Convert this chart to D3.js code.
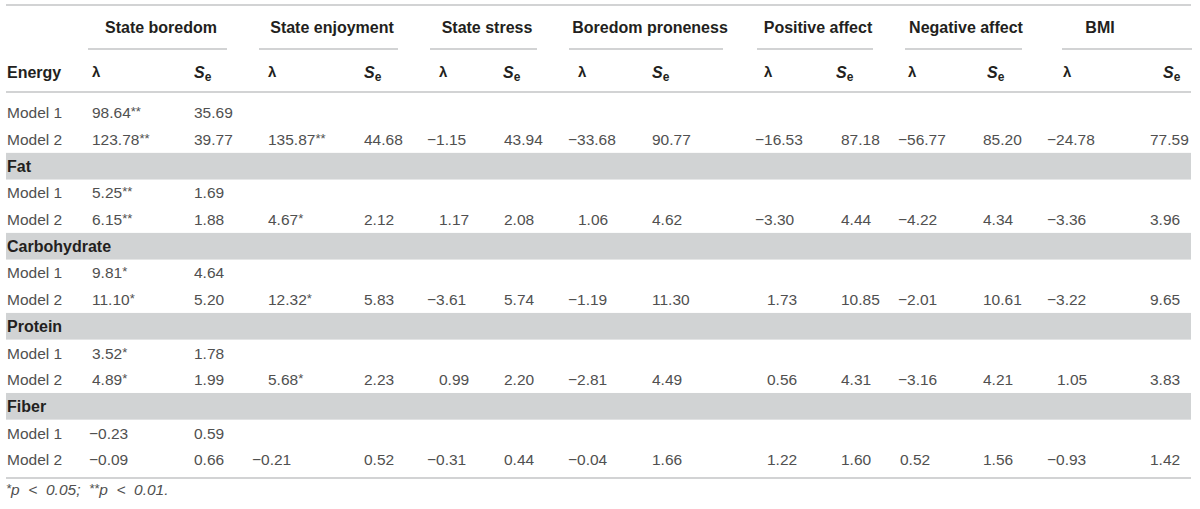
<!DOCTYPE html>
<html>
<head>
<meta charset="utf-8">
<script src="https://cdn.jsdelivr.net/npm/d3@7"></script>
<style>
  body { margin: 0; background: #fff; }
  svg { display: block; font-family: "Liberation Sans", Arial, Helvetica, sans-serif; }
</style>
</head>
<body>
<script>
// categorias e colunas
var groups = ["Energy", "Fat", "Carbohydrate", "Protein", "Fiber"];
var outcomes = ["State boredom", "State enjoyment", "State stress", "Boredom proneness",
                "Positive affect", "Negative affect", "BMI"];
var models = ["Model 1", "Model 2"];

// model 1 (só state boredom)
var m1Lambda = [98.64, 5.25, 9.81, 3.52, -0.23];
var m1Sig    = [2, 2, 1, 1, 0];
var m1Se     = [35.69, 1.69, 4.64, 1.78, 0.59];

// model 2, uma linha por grupo, uma coluna por outcome
var m2Lambda = [
  [123.78, 135.87, -1.15, -33.68, -16.53, -56.77, -24.78],
  [6.15, 4.67, 1.17, 1.06, -3.30, -4.22, -3.36],
  [11.10, 12.32, -3.61, -1.19, 1.73, -2.01, -3.22],
  [4.89, 5.68, 0.99, -2.81, 0.56, -3.16, 1.05],
  [-0.09, -0.21, -0.31, -0.04, 1.22, 0.52, -0.93]
];
var m2Sig = [
  [2, 2, 0, 0, 0, 0, 0],
  [2, 1, 0, 0, 0, 0, 0],
  [1, 1, 0, 0, 0, 0, 0],
  [1, 1, 0, 0, 0, 0, 0],
  [0, 0, 0, 0, 0, 0, 0]
];
var m2Se = [
  [39.77, 44.68, 43.94, 90.77, 87.18, 85.20, 77.59],
  [1.88, 2.12, 2.08, 4.62, 4.44, 4.34, 3.96],
  [5.20, 5.83, 5.74, 11.30, 10.85, 10.61, 9.65],
  [1.99, 2.23, 2.20, 4.49, 4.31, 4.21, 3.83],
  [0.66, 0.52, 0.44, 1.66, 1.60, 1.56, 1.42]
];

// layout
var w = 1200, h = 509;
var left = 6, right = 1191;
var textColor = "#505050", headColor = "#231f20", ruleColor = "#c3c4c6", bandColor = "#d1d3d4";

var lamX  = d3.scaleOrdinal().domain(outcomes).range([92, 268, 439, 578, 767, 900, 1057]);
var lamHang = d3.scaleOrdinal().domain(outcomes).range([3, 16, 12, 10, 12, 2, 10]);
var seX   = d3.scaleOrdinal().domain(outcomes).range([194, 364, 504, 652, 841, 983, 1150]);
var lamHX = d3.scaleOrdinal().domain(outcomes).range([92, 268, 439, 578, 764, 908, 1063]);
var seHX  = d3.scaleOrdinal().domain(outcomes).range([194, 364, 503, 652, 836, 987, 1163]);
var ruleA = d3.scaleOrdinal().domain(outcomes).range([88, 259, 430, 569, 757, 905, 1062]);
var ruleB = d3.scaleOrdinal().domain(outcomes).range([227, 398, 537, 723, 873, 1022, 1192]);
var headC = d3.scaleOrdinal().domain(outcomes).range([161, 332, 487, 650, 818, 966, 1100]);

var fmt = d3.format(".2f");

// linhas da tabela
var rows = [];
groups.forEach(function(g, gi) {
  if (gi > 0) rows.push({key: g + "-band", type: "band", group: g, gi: gi});
  models.forEach(function(m, mi) {
    rows.push({key: g + "-" + mi, type: "model", group: g, gi: gi, mi: mi, label: m});
  });
});

var y = d3.scaleBand()
  .domain(rows.map(function(r) { return r.key; }))
  .range([99.5, 473]);

var svg = d3.select("body").append("svg")
  .attr("width", w).attr("height", h);

// faixas cinzas
svg.selectAll("rect.band")
  .data(rows.filter(function(r) { return r.type == "band"; }))
  .enter().append("rect")
  .attr("class", "band")
  .attr("x", left).attr("width", right - left)
  .attr("y", function(d) { return y(d.key); })
  .attr("height", y.bandwidth())
  .attr("fill", bandColor);

svg.selectAll("text.bandlabel")
  .data(rows.filter(function(r) { return r.type == "band"; }))
  .enter().append("text")
  .attr("class", "bandlabel")
  .attr("x", 7)
  .attr("y", function(d) { return y(d.key) + y.bandwidth() / 2; })
  .attr("dy", "0.36em")
  .attr("font-size", "16px").attr("font-weight", "bold")
  .attr("fill", headColor)
  .text(function(d) { return d.group; });

// regras horizontais
function hline(x1, x2, yy) {
  svg.append("line")
    .attr("x1", x1).attr("x2", x2).attr("y1", yy).attr("y2", yy)
    .attr("stroke", ruleColor).attr("stroke-width", 1.6);
}
hline(left, right, 5);
hline(left, right, 92);
hline(left, right, 478);
outcomes.forEach(function(o) { hline(ruleA(o), ruleB(o), 49); });

// cabeçalho
svg.selectAll("text.head")
  .data(outcomes)
  .enter().append("text")
  .attr("class", "head")
  .attr("x", function(d) { return headC(d); })
  .attr("y", 27).attr("dy", "0.36em")
  .attr("text-anchor", "middle")
  .attr("font-size", "16px").attr("font-weight", "bold")
  .attr("fill", headColor)
  .text(function(d) { return d; });

svg.append("text")
  .attr("x", 7).attr("y", 72).attr("dy", "0.36em")
  .attr("font-size", "16px").attr("font-weight", "bold")
  .attr("fill", headColor)
  .text(groups[0]);

svg.selectAll("text.lamhead")
  .data(outcomes)
  .enter().append("text")
  .attr("class", "lamhead")
  .attr("x", function(d) { return lamHX(d); })
  .attr("y", 72).attr("dy", "0.36em")
  .attr("font-size", "15px").attr("font-weight", "bold")
  .attr("fill", headColor)
  .text("\u03bb");

var seHead = svg.selectAll("text.sehead")
  .data(outcomes)
  .enter().append("text")
  .attr("class", "sehead")
  .attr("x", function(d) { return seHX(d); })
  .attr("y", 72).attr("dy", "0.36em")
  .attr("font-size", "16px").attr("font-weight", "bold")
  .attr("fill", headColor);
seHead.append("tspan").attr("font-style", "italic").text("S");
seHead.append("tspan").attr("font-size", "12px").attr("dy", "3").text("e");

// células
var cells = [];
rows.filter(function(r) { return r.type == "model"; }).forEach(function(r) {
  outcomes.forEach(function(o, oi) {
    var lam, se, sig;
    if (r.mi == 0) {
      if (oi > 0) return;
      lam = m1Lambda[r.gi]; se = m1Se[r.gi]; sig = m1Sig[r.gi];
    } else {
      lam = m2Lambda[r.gi][oi]; se = m2Se[r.gi][oi]; sig = m2Sig[r.gi][oi];
    }
    cells.push({row: r, outcome: o, lam: lam, se: se, sig: sig});
  });
});

svg.selectAll("text.rowlabel")
  .data(rows.filter(function(r) { return r.type == "model"; }))
  .enter().append("text")
  .attr("class", "rowlabel")
  .attr("x", 7)
  .attr("y", function(d) { return y(d.key) + y.bandwidth() / 2; })
  .attr("dy", "0.36em")
  .attr("font-size", "15.5px").attr("fill", textColor)
  .text(function(d) { return d.label; });

var lamText = svg.selectAll("text.lam")
  .data(cells)
  .enter().append("text")
  .attr("class", "lam")
  .attr("x", function(d) { return lamX(d.outcome) - (d.lam < 0 ? lamHang(d.outcome) : 0); })
  .attr("y", function(d) { return y(d.row.key) + y.bandwidth() / 2; })
  .attr("dy", "0.36em")
  .attr("font-size", "15.5px").attr("fill", textColor);
lamText.append("tspan").text(function(d) { return fmt(d.lam); });
lamText.append("tspan")
  .attr("font-size", "13px").attr("dy", "-2")
  .text(function(d) { return "*".repeat(d.sig); });

svg.selectAll("text.se")
  .data(cells)
  .enter().append("text")
  .attr("class", "se")
  .attr("x", function(d) { return seX(d.outcome); })
  .attr("y", function(d) { return y(d.row.key) + y.bandwidth() / 2; })
  .attr("dy", "0.36em")
  .attr("font-size", "15.5px").attr("fill", textColor)
  .text(function(d) { return fmt(d.se); });

// nota de rodapé
var foot = svg.append("text")
  .attr("x", 6).attr("y", 495).attr("dy", "0.36em")
  .attr("font-size", "15.5px").attr("font-style", "italic").attr("fill", textColor)
  .attr("xml:space", "preserve");
foot.append("tspan").attr("font-size", "13px").attr("dy", "-2").text("*");
foot.append("tspan").attr("dy", "2").text("p  <  0.05;  ");
foot.append("tspan").attr("font-size", "13px").attr("dy", "-2").text("**");
foot.append("tspan").attr("dy", "2").text("p  <  0.01.");
</script>
</body>
</html>
